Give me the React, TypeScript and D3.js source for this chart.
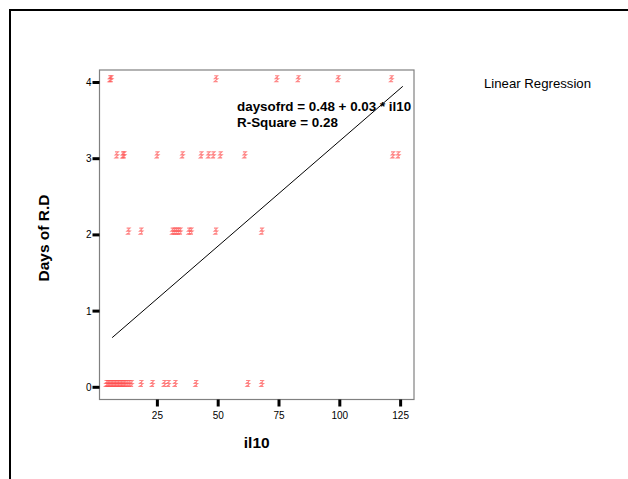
import React from "react";
import * as d3 from "d3";

// il10 values, grouped by the days of R.D value they sit at
const il10AtDay0 = [
  4, 4.6, 5.2, 5.8, 6.4, 7, 7.6, 8.2, 8.8, 9.4, 10, 10.6, 11.2, 11.8, 12.6,
  13.4, 14.3, 18.3, 22.9, 27.8, 29.5, 32.3, 40.8, 62.2, 67.9,
];
const il10AtDay2 = [13.1, 18.3, 31.2, 32, 32.8, 33.6, 34.4, 38, 38.9, 49, 67.9];
const il10AtDay3 = [
  8.3, 10.8, 11.3, 24.9, 35.3, 43, 46, 48, 50.9, 60.9, 121.8, 124,
];
const il10AtDay4 = [5.5, 6, 49.1, 74.1, 82.9, 99.3, 121.2];

const xTicks = [25, 50, 75, 100, 125];
const yTicks = [0, 1, 2, 3, 4];

const fitIntercept = 0.475;
const fitSlope = 0.0276;
const fitRange = [6.4, 125.9];

const font = "Arial, 'Liberation Sans', sans-serif";

const XAxis = (props) => {
  const { xScale, y } = props;
  return (
    <g>
      {xTicks.map((t, i) => (
        <g key={i} transform={`translate(${xScale(t)},${y})`}>
          <line x1="0" y1="0" x2="0" y2="7" stroke="#000" strokeWidth="3" />
          <text
            x="0"
            y="19"
            textAnchor="middle"
            fontSize="10"
            fontFamily={font}
            fill="#000"
          >
            {t}
          </text>
        </g>
      ))}
    </g>
  );
};

const YAxis = (props) => {
  const { yScale, x } = props;
  return (
    <g>
      {yTicks.map((t, i) => (
        <g key={i} transform={`translate(${x},${yScale(t)})`}>
          <line x1="-7" y1="0" x2="0" y2="0" stroke="#000" strokeWidth="3" />
          <text
            x="-8"
            y="3.5"
            textAnchor="end"
            fontSize="10"
            fontFamily={font}
            fill="#000"
          >
            {t}
          </text>
        </g>
      ))}
    </g>
  );
};

const Marker = (props) => {
  const { x, y } = props;
  return (
    <path
      transform={`translate(${x},${y - 3.8})`}
      d="M-1.8,-3 L1.6,-3 L-1.6,0 L1.8,0 L-1.8,3 L1.8,3 M0.5,-3.5 L0.5,3.5"
      fill="none"
      stroke="#ff5050"
      strokeWidth="1.1"
      opacity="0.7"
    />
  );
};

export default function App() {
  const left = 99.5;
  const right = 414;
  const top = 70;
  const bottom = 399.5;

  const xScale = d3.scaleLinear().domain([1.2, 130.5]).range([left, right]);
  const yScale = d3.scaleLinear().domain([-0.16, 4.164]).range([bottom, top]);

  const rows = [
    { day: 0, values: il10AtDay0 },
    { day: 2, values: il10AtDay2 },
    { day: 3, values: il10AtDay3 },
    { day: 4, values: il10AtDay4 },
  ];
  const points = rows.flatMap((r) => r.values.map((v) => [v, r.day]));

  const fitLine = d3
    .line()
    .x((d) => xScale(d[0]))
    .y((d) => yScale(d[1]))(
    fitRange.map((v) => [v, fitIntercept + fitSlope * v])
  );

  return (
    <svg
      width={628}
      height={479}
      style={{ position: "absolute", left: 0, top: 0, background: "#fff" }}
    >
      <rect x="10" y="10" width="700" height="600" fill="none" stroke="#000" strokeWidth="2" />

      <rect
        x={left}
        y={top}
        width={right - left}
        height={bottom - top}
        fill="none"
        stroke="#808080"
        strokeWidth="1.2"
      />

      <XAxis xScale={xScale} y={bottom} />
      <YAxis yScale={yScale} x={left} />

      <g>
        {points.map((p, i) => (
          <Marker key={i} x={xScale(p[0])} y={yScale(p[1])} />
        ))}
      </g>

      <path d={fitLine} fill="none" stroke="#000" strokeWidth="1" />

      <text
        x="237"
        y="110.5"
        fontSize="13.4"
        fontWeight="bold"
        fontFamily={font}
        fill="#000"
      >
        daysofrd = 0.48 + 0.03 * il10
      </text>
      <text
        x="237"
        y="126.5"
        fontSize="13.4"
        fontWeight="bold"
        fontFamily={font}
        fill="#000"
      >
        R-Square = 0.28
      </text>

      <text
        x="537.5"
        y="88"
        textAnchor="middle"
        fontSize="13.2"
        fontFamily={font}
        fill="#000"
      >
        Linear Regression
      </text>

      <text
        x={(left + right) / 2}
        y="448"
        textAnchor="middle"
        fontSize="15.5"
        fontWeight="bold"
        fontFamily={font}
        fill="#000"
      >
        il10
      </text>
      <text
        transform="translate(48.5,238) rotate(-90)"
        textAnchor="middle"
        fontSize="15.5"
        fontWeight="bold"
        fontFamily={font}
        fill="#000"
      >
        Days of R.D
      </text>
    </svg>
  );
}
